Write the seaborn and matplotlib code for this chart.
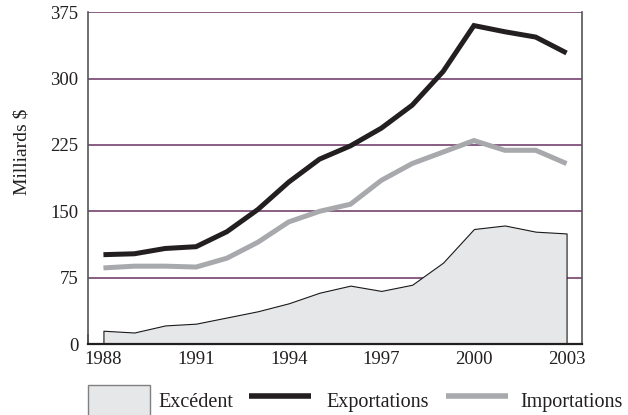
import matplotlib
matplotlib.use("Agg")
import matplotlib.pyplot as plt
import seaborn as sns
import pandas as pd
from matplotlib.patches import Patch
from matplotlib.lines import Line2D

years = list(range(1988, 2004))
exportations = [101, 102, 108, 110, 127, 152, 183, 209, 224, 244, 270, 308, 360, 353, 347, 329]
importations = [86, 88, 88, 87, 97, 115, 138, 150, 158, 185, 204, 217, 230, 219, 219, 204]
excedent = [15, 13, 21, 23, 30, 37, 46, 58, 66, 60, 67, 92, 130, 134, 127, 125]
y_ticks = [0, 75, 150, 225, 300, 375]
x_labels = [1988, 1991, 1994, 1997, 2000, 2003]
series_names = ["Excédent", "Exportations", "Importations"]
ylabel = "Milliards $"

sns.set_theme(style="white")
plt.rcParams["font.family"] = ["Liberation Serif", "DejaVu Serif"]
plt.rcParams["lines.solid_capstyle"] = "butt"
plt.rcParams["lines.solid_joinstyle"] = "miter"

fig = plt.figure(figsize=(6.28, 4.15), dpi=100)
ax = fig.add_axes([88 / 628, 1 - 344 / 415, (582 - 88) / 628, (344 - 12.3) / 415])

grid_col = "#6a3262"
for v in y_ticks[1:]:
    ax.axhline(v, color=grid_col, lw=1.1, zorder=0.5)

ax.fill_between(years, excedent, 0, facecolor="#e6e7e9", edgecolor="#1a1a1a", linewidth=0.8, zorder=1)

df = pd.DataFrame({
    "year": years * 2,
    "value": exportations + importations,
    "serie": ["Exportations"] * len(years) + ["Importations"] * len(years),
})
sns.lineplot(data=df, x="year", y="value", hue="serie",
             palette={"Exportations": "#231f20", "Importations": "#a7a9ac"},
             linewidth=3.6, legend=False, ax=ax, zorder=3)
for ln in ax.lines:
    ln.set_solid_capstyle("butt")
    ln.set_solid_joinstyle("miter")

ax.set_xlim(1987.5, 2003.5)
ax.set_ylim(0, 375)
ax.set_yticks(y_ticks)
ax.set_xticks(x_labels)
ax.set_xticks([y + 0.5 for y in range(1987, 2003)], minor=True)
ax.tick_params(axis="x", which="major", length=0, labelsize=13.5, colors="#231f20", pad=5)
ax.tick_params(axis="x", which="minor", direction="in", length=7, width=1.1, color="#231f20", bottom=True)
ax.tick_params(axis="y", length=0, labelsize=13.5, colors="#231f20", pad=7)
ax.set_xlabel("")
ax.set_ylabel("")

for s in ["left", "right"]:
    ax.spines[s].set_color("#555555")
    ax.spines[s].set_linewidth(1.2)
ax.spines["bottom"].set_color("#231f20")
ax.spines["bottom"].set_linewidth(1.6)
ax.spines["top"].set_visible(False)

fig.text(22 / 628, 1 - 152 / 415, ylabel, rotation=90, ha="center", va="center",
         fontsize=14, color="#231f20")

handles = [
    Patch(facecolor="#e6e7e9", edgecolor="#808080", linewidth=1.0),
    Line2D([0], [0], color="#231f20", lw=4, solid_capstyle="butt"),
    Line2D([0], [0], color="#a7a9ac", lw=4, solid_capstyle="butt"),
]
x_starts = [88, 249, 446]
pads = [0.4, 0.75, 0.6]
for h, name, xs, pad in zip(handles, series_names, x_starts, pads):
    leg = fig.legend([h], [name], loc="center left", bbox_to_anchor=(xs / 628, 1 - 401 / 415),
                     frameon=False, fontsize=14.5, handlelength=3.08, handleheight=2.0,
                     handletextpad=pad, borderpad=0, borderaxespad=0,
                     labelcolor="#231f20")
    for line in leg.get_lines():
        line.set_solid_capstyle("butt")

fig.savefig("out.png", dpi=100)
